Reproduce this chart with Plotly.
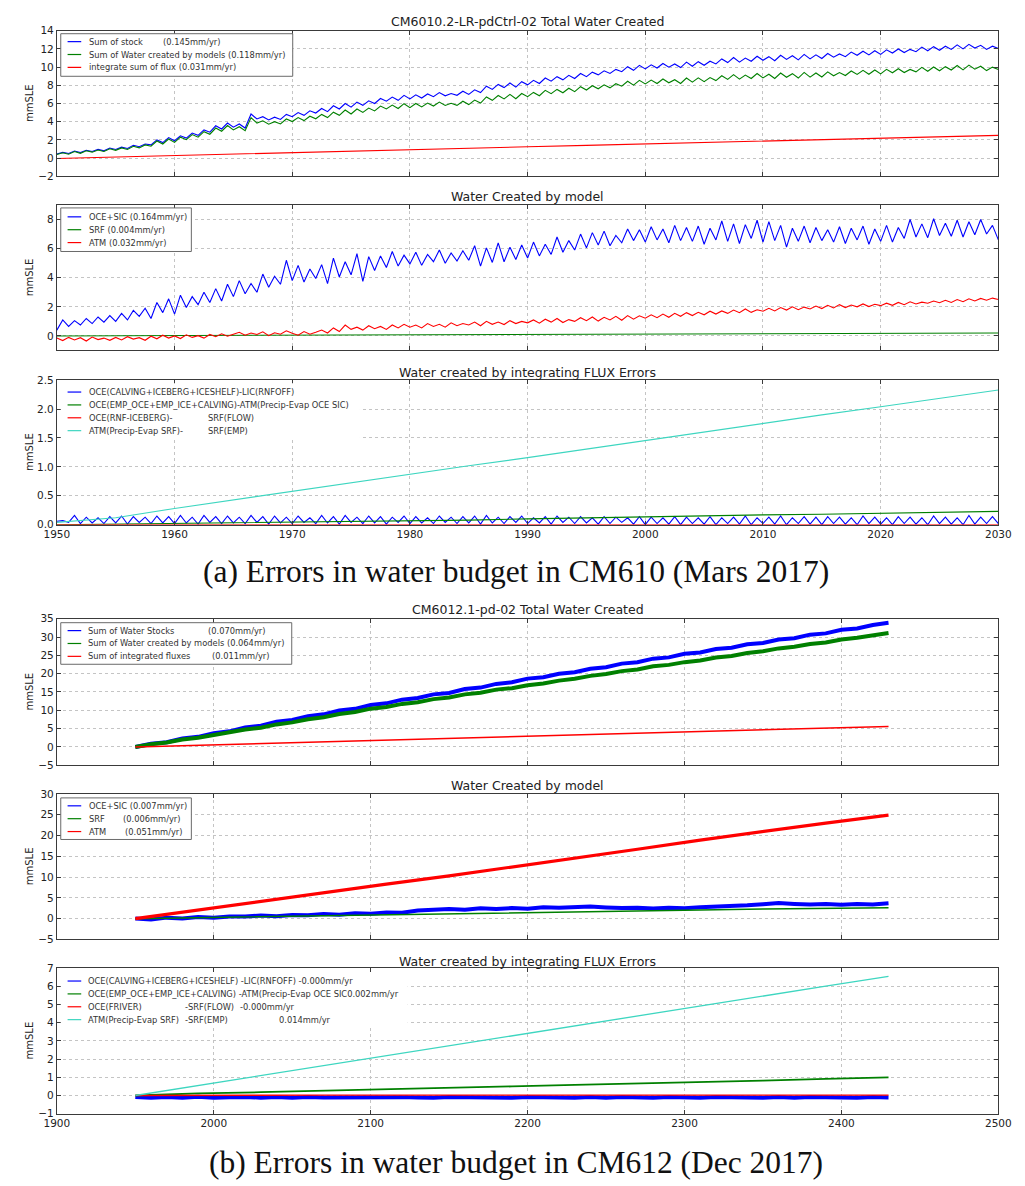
import plotly.graph_objects as go

W, H = 1025, 1186

# ------------------------------------------------------------------
# CM610 run (Mars 2017), 1950-2030
# ------------------------------------------------------------------
a_years_half = [1950 + 0.5 * i for i in range(161)]
a_years_5 = list(range(1950, 2031, 5))
a_years_10 = list(range(1950, 2031, 10))
a_years_20 = list(range(1950, 2031, 20))

# Total water created (mmSLE), half-year samples
a1_stock = [
    0.45, 0.62, 0.50, 0.78, 0.60, 0.85, 0.72, 0.95, 0.80, 1.10,
    0.95, 1.20, 1.05, 1.40, 1.25, 1.55, 1.45, 2.00, 1.70, 2.25,
    1.90, 2.45, 2.20, 2.75, 2.50, 3.10, 2.85, 3.55, 3.20, 3.85,
    3.40, 3.75, 3.30, 4.85, 4.30, 4.55, 4.20, 4.50, 4.25, 4.80,
    4.55, 5.00, 4.70, 5.20, 4.95, 5.45, 5.10, 5.75, 5.40, 6.00,
    5.60, 6.15, 5.80, 6.30, 6.00, 6.55, 6.25, 6.70, 6.35, 6.90,
    6.50, 6.95, 6.60, 7.05, 6.75, 7.20, 6.85, 7.10, 6.90, 7.35,
    7.00, 7.50, 7.20, 7.90, 7.55, 8.10, 7.75, 8.25, 7.80, 8.40,
    8.05, 8.55, 8.20, 8.80, 8.45, 8.95, 8.60, 9.10, 8.75, 9.30,
    8.95, 9.45, 9.15, 9.60, 9.30, 9.75, 9.50, 10.05, 9.65, 10.20,
    9.80, 10.25, 9.90, 10.40, 10.00, 10.35, 9.95, 10.55, 10.10, 10.60,
    10.20, 10.65, 10.35, 10.90, 10.50, 11.05, 10.55, 11.00, 10.65, 11.20,
    10.75, 11.15, 10.70, 11.30, 10.85, 11.25, 10.80, 11.40, 10.90, 11.35,
    10.95, 11.50, 11.10, 11.45, 11.15, 11.65, 11.30, 11.75, 11.35, 11.80,
    11.40, 11.90, 11.55, 12.00, 11.60, 11.95, 11.70, 12.20, 11.80, 12.25,
    11.85, 12.30, 11.95, 12.45, 12.00, 12.50, 12.10, 12.40, 11.95, 12.30,
    12.05,
]
a1_models = [
    0.40, 0.58, 0.42, 0.72, 0.52, 0.80, 0.65, 0.88, 0.72, 1.02,
    0.85, 1.12, 0.95, 1.30, 1.12, 1.45, 1.30, 1.88, 1.55, 2.10,
    1.72, 2.30, 2.02, 2.58, 2.30, 2.90, 2.62, 3.30, 2.95, 3.58,
    3.10, 3.45, 3.00, 4.45, 3.85, 4.10, 3.72, 4.00, 3.75, 4.30,
    4.02, 4.45, 4.12, 4.60, 4.32, 4.80, 4.45, 5.05, 4.70, 5.28,
    4.85, 5.40, 5.02, 5.50, 5.18, 5.72, 5.40, 5.82, 5.45, 5.98,
    5.55, 6.00, 5.62, 6.05, 5.72, 6.15, 5.78, 6.02, 5.80, 6.25,
    5.88, 6.38, 6.05, 6.72, 6.35, 6.88, 6.50, 7.00, 6.52, 7.10,
    6.75, 7.22, 6.85, 7.45, 7.08, 7.55, 7.18, 7.68, 7.30, 7.85,
    7.48, 7.95, 7.62, 8.05, 7.72, 8.18, 7.90, 8.45, 8.02, 8.55,
    8.15, 8.58, 8.20, 8.70, 8.28, 8.62, 8.20, 8.80, 8.35, 8.82,
    8.40, 8.85, 8.52, 9.05, 8.65, 9.18, 8.68, 9.12, 8.75, 9.30,
    8.82, 9.22, 8.75, 9.35, 8.88, 9.28, 8.80, 9.42, 8.90, 9.35,
    8.92, 9.48, 9.05, 9.40, 9.08, 9.58, 9.20, 9.65, 9.22, 9.68,
    9.25, 9.75, 9.38, 9.82, 9.40, 9.75, 9.48, 9.98, 9.55, 10.02,
    9.60, 10.05, 9.68, 10.18, 9.70, 10.22, 9.78, 10.10, 9.62, 10.00,
    9.75,
]
a1_flux = [-0.05, 0.12, 0.28, 0.44, 0.60, 0.78, 0.92, 1.08, 1.24,
           1.40, 1.55, 1.70, 1.86, 2.02, 2.18, 2.34, 2.50]

# Water created by each model component (mmSLE)
a2_oce_sic = [
    0.40, 1.10, 0.65, 1.05, 0.75, 1.20, 0.85, 1.30, 0.95, 1.40,
    1.00, 1.55, 1.10, 1.75, 1.35, 1.90, 1.20, 2.30, 1.60, 2.55,
    1.50, 2.80, 1.95, 2.70, 2.15, 3.00, 2.30, 3.25, 2.40, 3.55,
    2.70, 3.80, 2.90, 3.60, 3.00, 4.25, 3.35, 4.10, 3.55, 5.20,
    3.80, 4.85, 3.70, 4.60, 3.95, 4.90, 3.60, 5.35, 4.05, 5.10,
    4.20, 5.65, 3.75, 5.45, 4.50, 5.50, 4.70, 5.80, 4.80, 5.55,
    4.95, 5.75, 4.85, 5.60, 5.10, 5.90, 5.00, 5.70, 5.15, 5.85,
    5.20, 6.20, 4.80, 6.05, 5.05, 6.40, 5.10, 6.10, 5.25, 6.25,
    5.35, 6.45, 5.50, 6.30, 5.60, 6.80, 5.75, 6.55, 5.90, 7.00,
    6.05, 7.10, 6.25, 7.20, 6.20, 6.90, 6.40, 7.35, 6.55, 7.30,
    6.45, 7.50, 6.60, 7.35, 6.40, 7.60, 6.55, 7.45, 6.50, 7.55,
    6.30, 7.40, 6.60, 7.90, 6.50, 7.70, 6.35, 7.65, 6.70, 7.95,
    6.45, 7.85, 6.55, 7.60, 6.10, 7.40, 6.50, 7.55, 6.40, 7.45,
    6.55, 7.30, 6.45, 7.50, 6.35, 7.40, 6.60, 7.55, 6.30, 7.35,
    6.50, 7.60, 6.45, 7.45, 6.70, 8.00, 6.80, 7.70, 6.75, 8.05,
    6.90, 7.75, 6.85, 7.95, 6.80, 7.85, 6.95, 8.00, 7.00, 7.60,
    6.60,
]
a2_srf = [0.00, 0.02, 0.04, 0.06, 0.08, 0.11, 0.14, 0.17, 0.20]
a2_atm = [
    -0.15, -0.32, -0.10, -0.28, -0.12, -0.35, -0.08, -0.25, -0.15, -0.30,
    -0.10, -0.28, -0.05, -0.22, -0.12, -0.30, -0.02, -0.20, 0.05, -0.15,
    0.00, -0.18, 0.08, -0.10, 0.02, -0.15, 0.10, -0.05, 0.15, -0.02,
    0.12, 0.25, 0.05, 0.20, 0.10, 0.28, 0.02, 0.22, 0.12, 0.35,
    0.18, 0.05, 0.30, 0.12, 0.25, 0.40, 0.20, 0.55, 0.30, 0.75,
    0.45, 0.60, 0.40, 0.70, 0.50, 0.65, 0.45, 0.75, 0.55, 0.80,
    0.60, 0.75, 0.55, 0.85, 0.65, 0.80, 0.60, 0.90, 0.70, 0.85,
    0.75, 0.95, 0.70, 1.00, 0.80, 0.95, 0.78, 1.05, 0.85, 1.00,
    0.90, 1.10, 0.88, 1.15, 0.95, 1.20, 0.92, 1.12, 1.00, 1.25,
    1.05, 1.30, 1.02, 1.28, 1.10, 1.35, 1.08, 1.40, 1.15, 1.38,
    1.22, 1.45, 1.25, 1.50, 1.28, 1.55, 1.35, 1.60, 1.40, 1.62,
    1.45, 1.70, 1.50, 1.72, 1.55, 1.78, 1.60, 1.85, 1.62, 1.80,
    1.70, 1.90, 1.72, 1.95, 1.78, 2.00, 1.80, 1.98, 1.85, 2.05,
    1.88, 2.10, 1.92, 2.15, 1.95, 2.12, 2.00, 2.20, 2.02, 2.18,
    2.08, 2.25, 2.10, 2.30, 2.15, 2.35, 2.20, 2.32, 2.25, 2.40,
    2.28, 2.45, 2.30, 2.50, 2.35, 2.55, 2.40, 2.58, 2.45, 2.60,
    2.50,
]

# Water created by integrating flux errors (mmSLE)
a3_calving = [
    0.06, 0.07, 0.04, 0.16, 0.02, 0.13, 0.03, 0.12, 0.02, 0.14,
    0.03, 0.15, 0.01, 0.14, 0.04, 0.13, 0.02, 0.15, 0.03, 0.14,
    0.02, 0.16, 0.03, 0.13, 0.01, 0.16, 0.04, 0.14, 0.02, 0.15,
    0.03, 0.13, 0.02, 0.16, 0.04, 0.14, 0.01, 0.15, 0.03, 0.13,
    0.02, 0.15, 0.04, 0.12, 0.02, 0.16, 0.03, 0.14, 0.01, 0.16,
    0.04, 0.13, 0.02, 0.15, 0.03, 0.14, 0.01, 0.13, 0.04, 0.15,
    0.02, 0.14, 0.03, 0.12, 0.02, 0.15, 0.04, 0.13, 0.02, 0.14,
    0.03, 0.15, 0.01, 0.16, 0.03, 0.13, 0.02, 0.14, 0.04, 0.15,
    0.02, 0.12, 0.03, 0.14, 0.01, 0.15, 0.04, 0.13, 0.02, 0.14,
    0.03, 0.12, 0.01, 0.14, 0.02, 0.13, 0.04, 0.12, 0.01, 0.14,
    0.00, 0.13, 0.02, 0.12, 0.01, 0.14, 0.00, 0.13, 0.02, 0.12,
    0.01, 0.14, 0.00, 0.12, 0.02, 0.13, 0.01, 0.15, 0.00, 0.12,
    0.02, 0.13, 0.01, 0.15, 0.00, 0.12, 0.02, 0.14, 0.01, 0.13,
    0.00, 0.14, 0.02, 0.13, 0.01, 0.12, 0.00, 0.15, 0.02, 0.13,
    0.01, 0.12, 0.00, 0.14, 0.02, 0.13, 0.01, 0.12, 0.00, 0.15,
    0.02, 0.13, 0.01, 0.12, 0.00, 0.16, 0.01, 0.13, 0.02, 0.14,
    0.02,
]
a3_emp = [0.00, 0.01, 0.02, 0.03, 0.04, 0.05, 0.06, 0.08, 0.10,
          0.12, 0.13, 0.15, 0.17, 0.18, 0.20, 0.22, 0.23]
a3_rnf = [0.00, 0.00, 0.00, 0.00, 0.00]
a3_precip = [0.04, 0.12, 0.28, 0.43, 0.58, 0.72, 0.87, 1.02, 1.16,
             1.31, 1.46, 1.61, 1.76, 1.90, 2.04, 2.19, 2.33]

# ------------------------------------------------------------------
# CM612 run (Dec 2017), 1950-2430
# ------------------------------------------------------------------
b_years_10 = list(range(1950, 2431, 10))
b_years_40 = list(range(1950, 2431, 40))

b1_stocks = [
    0.00, 0.85, 1.30, 2.30, 2.75, 3.75, 4.25, 5.30, 5.80, 6.85,
    7.35, 8.40, 8.90, 9.95, 10.40, 11.45, 11.90, 12.90, 13.35, 14.35,
    14.75, 15.80, 16.20, 17.20, 17.65, 18.65, 19.05, 20.00, 20.40, 21.35,
    21.75, 22.75, 23.10, 24.10, 24.45, 25.45, 25.80, 26.75, 27.10, 28.05,
    28.40, 29.35, 29.70, 30.65, 31.00, 32.00, 32.35, 33.30, 33.90,
]
b1_models = [
    0.00, 0.75, 1.20, 2.00, 2.50, 3.30, 3.85, 4.75, 5.25, 6.15,
    6.70, 7.55, 8.10, 9.00, 9.55, 10.45, 10.90, 11.75, 12.20, 13.05,
    13.50, 14.35, 14.80, 15.65, 16.05, 16.85, 17.30, 18.10, 18.60, 19.40,
    19.90, 20.70, 21.15, 22.00, 22.40, 23.15, 23.60, 24.40, 24.85, 25.65,
    26.10, 26.90, 27.35, 28.10, 28.50, 29.35, 29.80, 30.55, 31.10,
]
b1_fluxes = [0.00, 0.47, 0.93, 1.40, 1.87, 2.33, 2.80, 3.27, 3.73,
             4.20, 4.67, 5.13, 5.60]

b2_oce_sic = [
    0.05, -0.20, 0.25, 0.05, 0.40, 0.25, 0.55, 0.50, 0.75, 0.60,
    0.90, 0.80, 1.10, 0.95, 1.30, 1.20, 1.50, 1.45, 1.95, 2.05,
    2.30, 2.15, 2.50, 2.35, 2.55, 2.40, 2.75, 2.60, 2.85, 2.90,
    2.70, 2.55, 2.65, 2.45, 2.60, 2.50, 2.75, 2.85, 3.10, 3.20,
    3.45, 3.75, 3.55, 3.40, 3.50, 3.35, 3.55, 3.40, 3.70,
]
b2_srf = [0.00, 0.25, 0.50, 0.72, 0.95, 1.20, 1.45, 1.70, 1.90,
          2.10, 2.30, 2.50, 2.65]
b2_atm = [0.00, 2.10, 4.20, 6.30, 8.30, 10.30, 12.40, 14.60, 16.70,
          18.90, 21.00, 23.00, 24.90]

b3_calving = [
    -0.08, -0.13, -0.09, -0.12, -0.07, -0.13, -0.10, -0.08, -0.12, -0.09,
    -0.13, -0.08, -0.11, -0.10, -0.13, -0.08, -0.12, -0.09, -0.11, -0.13,
    -0.08, -0.10, -0.12, -0.09, -0.13, -0.08, -0.11, -0.10, -0.12, -0.09,
    -0.13, -0.08, -0.11, -0.12, -0.09, -0.10, -0.13, -0.08, -0.11, -0.10,
    -0.12, -0.09, -0.13, -0.08, -0.11, -0.10, -0.12, -0.09, -0.11,
]
b3_emp = [0.00, 0.12, 0.18, 0.25, 0.36, 0.43, 0.50, 0.58, 0.65,
          0.74, 0.82, 0.91, 1.00]
b3_friver = [0.00, 0.02, 0.02, 0.02, 0.02, 0.02, 0.02, 0.02, 0.02,
             0.02, 0.02, 0.02, 0.02]
b3_precip = [0.00, 0.55, 1.10, 1.65, 2.19, 2.74, 3.28, 3.83, 4.37,
             4.92, 5.46, 6.01, 6.55]

# Legend labels (split where the text is laid out in columns)
a1_labels = [["Sum of stock", "(0.145mm/yr)"],
             ["Sum of Water created by models (0.118mm/yr)"],
             ["integrate sum of flux (0.031mm/yr)"]]
a2_labels = [["OCE+SIC (0.164mm/yr)"], ["SRF (0.004mm/yr)"], ["ATM (0.032mm/yr)"]]
a3_labels = [["OCE(CALVING+ICEBERG+ICESHELF)-LIC(RNFOFF)"],
             ["OCE(EMP_OCE+EMP_ICE+CALVING)-ATM(Precip-Evap OCE SIC)"],
             ["OCE(RNF-ICEBERG)-", "SRF(FLOW)"],
             ["ATM(Precip-Evap SRF)-", "SRF(EMP)"]]
b1_labels = [["Sum of Water Stocks", "(0.070mm/yr)"],
             ["Sum of Water created by models (0.064mm/yr)"],
             ["Sum of integrated fluxes", "(0.011mm/yr)"]]
b2_labels = [["OCE+SIC (0.007mm/yr)"], ["SRF", "(0.006mm/yr)"], ["ATM", "(0.051mm/yr)"]]
b3_labels = [["OCE(CALVING+ICEBERG+ICESHELF) -LIC(RNFOFF) -0.000mm/yr"],
             ["OCE(EMP_OCE+EMP_ICE+CALVING) -ATM(Precip-Evap OCE SIC0.002mm/yr"],
             ["OCE(FRIVER)", "-SRF(FLOW)", "-0.000mm/yr"],
             ["ATM(Precip-Evap SRF)", "-SRF(EMP)", "0.014mm/yr"]]

titles = ["CM6010.2-LR-pdCtrl-02 Total Water Created",
          "Water Created by model",
          "Water created by integrating FLUX Errors",
          "CM6012.1-pd-02 Total Water Created",
          "Water Created by model",
          "Water created by integrating FLUX Errors"]
captions = ["(a) Errors in water budget in CM610 (Mars 2017)",
            "(b) Errors in water budget in CM612 (Dec 2017)"]

BLUE, GREEN, RED, CYAN = "#0000ff", "#008000", "#ff0000", "#3ed6c0"
SANS = "DejaVu Sans"
SERIF = "Liberation Serif"
LEGEND_SIZE = 8.3

# ------------------------------------------------------------------
# Panel geometry (pixels)
# ------------------------------------------------------------------
LEFT, RIGHT = 45, 1011
panels = [
    dict(top=25, bot=172, yr=[-2, 14], dy=2, y0=-2, xr=[1950, 2030], dx=10, xl=False, ty=16, fmt=None),
    dict(top=201, bot=348, yr=[-1, 9], dy=2, y0=0, xr=[1950, 2030], dx=10, xl=False, ty=192, fmt=None),
    dict(top=378, bot=524, yr=[0, 2.5], dy=0.5, y0=0, xr=[1950, 2030], dx=10, xl=True, ty=370, fmt=".1f"),
    dict(top=619, bot=767, yr=[-5, 35], dy=5, y0=-5, xr=[1900, 2500], dx=100, xl=False, ty=610, fmt=None),
    dict(top=796, bot=943, yr=[-5, 30], dy=5, y0=-5, xr=[1900, 2500], dx=100, xl=False, ty=787, fmt=None),
    dict(top=972, bot=1119, yr=[-1, 7], dy=1, y0=-1, xr=[1900, 2500], dx=100, xl=True, ty=965, fmt=None),
]


def px(x):
    return x / W


def py(y):
    return 1 - y / H


fig = go.Figure()


def add_line(panel, x, y, color, width, name):
    suffix = "" if panel == 1 else str(panel)
    fig.add_trace(go.Scatter(x=x, y=y, mode="lines", name=name,
                             line=dict(color=color, width=width),
                             xaxis="x" + suffix, yaxis="y" + suffix,
                             showlegend=False, hoverinfo="skip"))


def join(parts):
    return " ".join(parts)


add_line(1, a_years_half, a1_stock, BLUE, 1.1, join(a1_labels[0]))
add_line(1, a_years_half, a1_models, GREEN, 1.1, join(a1_labels[1]))
add_line(1, a_years_5, a1_flux, RED, 1.1, join(a1_labels[2]))

add_line(2, a_years_half, a2_oce_sic, BLUE, 1.1, join(a2_labels[0]))
add_line(2, a_years_10, a2_srf, GREEN, 1.1, join(a2_labels[1]))
add_line(2, a_years_half, a2_atm, RED, 1.1, join(a2_labels[2]))

add_line(3, a_years_half, a3_calving, BLUE, 1.1, join(a3_labels[0]))
add_line(3, a_years_5, a3_emp, GREEN, 1.1, join(a3_labels[1]))
add_line(3, a_years_20, a3_rnf, RED, 1.1, join(a3_labels[2]))
add_line(3, a_years_5, a3_precip, CYAN, 1.2, join(a3_labels[3]))

add_line(4, b_years_10, b1_stocks, BLUE, 4.0, join(b1_labels[0]))
add_line(4, b_years_10, b1_models, GREEN, 4.0, join(b1_labels[1]))
add_line(4, b_years_40, b1_fluxes, RED, 1.5, join(b1_labels[2]))

add_line(5, b_years_10, b2_oce_sic, BLUE, 4.0, join(b2_labels[0]))
add_line(5, b_years_40, b2_srf, GREEN, 1.5, join(b2_labels[1]))
add_line(5, b_years_40, b2_atm, RED, 3.2, join(b2_labels[2]))

add_line(6, b_years_10, b3_calving, BLUE, 4.0, join(b3_labels[0]))
add_line(6, b_years_40, b3_emp, GREEN, 1.8, join(b3_labels[1]))
add_line(6, b_years_40, b3_friver, RED, 1.3, join(b3_labels[2]))
add_line(6, b_years_40, b3_precip, CYAN, 1.3, join(b3_labels[3]))

# ------------------------------------------------------------------
# Axes
# ------------------------------------------------------------------
common = dict(showline=True, linecolor="#3a3a3a", linewidth=1, mirror="allticks",
              ticks="inside", ticklen=4, tickwidth=1, tickcolor="#3a3a3a",
              showgrid=True, gridcolor="#c4c4c4", griddash="dot", gridwidth=1,
              zeroline=False, fixedrange=True,
              tickfont=dict(family=SANS, size=10.5, color="#222"))

layout_axes = {}
for i, p in enumerate(panels, start=1):
    s = "" if i == 1 else str(i)
    layout_axes["xaxis" + s] = dict(domain=[px(LEFT), px(RIGHT)], range=p["xr"],
                                    anchor="y" + s, tick0=p["xr"][0], dtick=p["dx"],
                                    showticklabels=p["xl"], **common)
    ya = dict(domain=[py(p["bot"]), py(p["top"])], range=p["yr"], anchor="x" + s,
              tick0=p["y0"], dtick=p["dy"], **common)
    if p["fmt"]:
        ya["tickformat"] = p["fmt"]
    layout_axes["yaxis" + s] = ya

annotations = []
shapes = []

for p, t in zip(panels, titles):
    annotations.append(dict(x=px((LEFT + RIGHT) / 2), y=py(p["ty"]), xref="paper", yref="paper",
                            text=t, showarrow=False, xanchor="center", yanchor="middle",
                            font=dict(family=SANS, size=12.5, color="#222")))
    annotations.append(dict(x=px(17), y=py((p["top"] + p["bot"]) / 2), xref="paper", yref="paper",
                            text="mmSLE", showarrow=False, textangle=-90,
                            xanchor="center", yanchor="middle",
                            font=dict(family=SANS, size=10, color="#222")))

annotations.append(dict(x=px(516), y=py(571), xref="paper", yref="paper", text=captions[0],
                        showarrow=False, xanchor="center", yanchor="middle",
                        font=dict(family=SERIF, size=31.5, color="#111")))
annotations.append(dict(x=px(516), y=py(1168), xref="paper", yref="paper", text=captions[1],
                        showarrow=False, xanchor="center", yanchor="middle",
                        font=dict(family=SERIF, size=31.5, color="#111")))


def add_legend(box, framed, rows, labels, colors, cols):
    x0, y0, x1, y1 = box
    shapes.append(dict(type="rect", xref="paper", yref="paper",
                       x0=px(x0), x1=px(x1), y0=py(y1), y1=py(y0),
                       line=dict(color="#6a6a6a" if framed else "rgba(0,0,0,0)", width=1),
                       fillcolor="white", layer="above"))
    for ry, parts, col, xs in zip(rows, labels, colors, cols):
        shapes.append(dict(type="line", xref="paper", yref="paper",
                           x0=px(56), x1=px(70), y0=py(ry), y1=py(ry),
                           line=dict(color=col, width=1.2), layer="above"))
        for text, tx in zip(parts, xs):
            annotations.append(dict(x=px(tx), y=py(ry), xref="paper", yref="paper",
                                    text=text, showarrow=False, xanchor="left",
                                    yanchor="middle", borderpad=0,
                                    font=dict(family=SANS, size=LEGEND_SIZE, color="#333")))


add_legend((49, 28, 287, 71), True, [36, 49, 62], a1_labels, [BLUE, GREEN, RED],
           [[77, 153], [77], [77]])
add_legend((49, 204, 183, 248), True, [213, 226, 239], a2_labels, [BLUE, GREEN, RED],
           [[77], [77], [77]])
add_legend((49, 381, 356, 437), False, [390, 403, 416, 429], a3_labels,
           [BLUE, GREEN, RED, CYAN], [[77], [77], [77, 199], [77, 199]])
add_legend((49, 623, 286, 665), True, [631, 644, 657], b1_labels, [BLUE, GREEN, RED],
           [[76, 199], [76], [76, 203]])
add_legend((49, 800, 183, 842), True, [808, 821, 834], b2_labels, [BLUE, GREEN, RED],
           [[77], [77, 112], [77, 114]])
add_legend((49, 976, 405, 1032), False, [985, 998, 1011, 1024], b3_labels,
           [BLUE, GREEN, RED, CYAN], [[76], [76], [76, 175, 232], [76, 175, 272]])

fig.update_layout(width=W, height=H, margin=dict(l=0, r=0, t=0, b=0),
                  paper_bgcolor="white", plot_bgcolor="white", showlegend=False,
                  annotations=annotations, shapes=shapes, **layout_axes)

fig.write_html("out.html", config={"displayModeBar": False})
